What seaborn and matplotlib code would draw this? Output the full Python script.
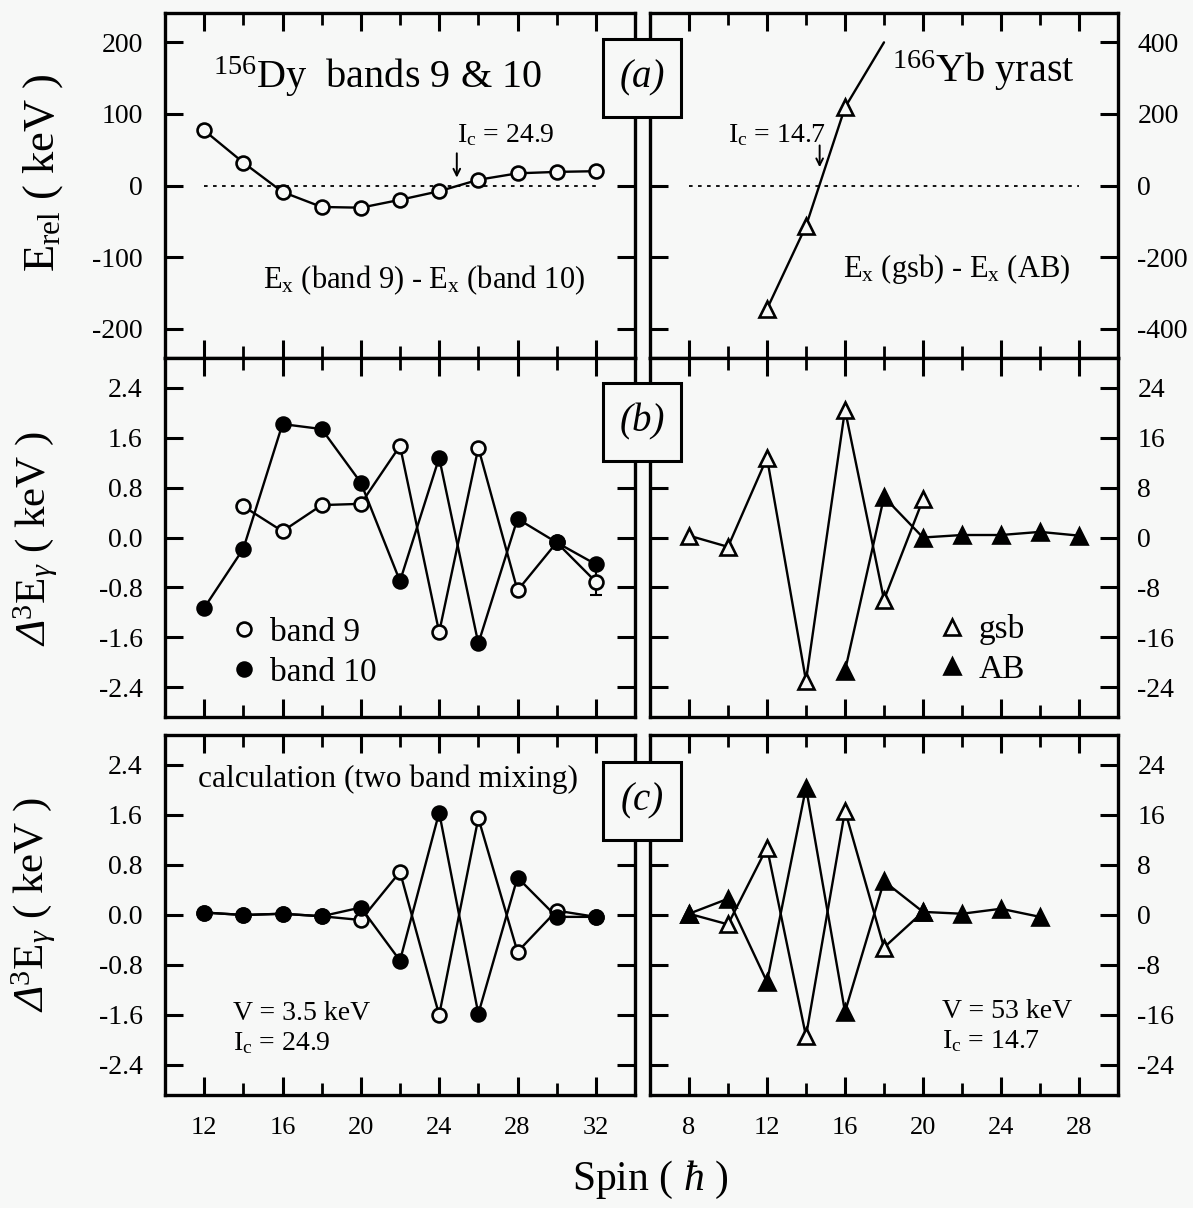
import matplotlib
matplotlib.use('Agg')
import matplotlib.pyplot as plt
import seaborn as sns
from matplotlib.lines import Line2D
from matplotlib.patches import Rectangle
from matplotlib.ticker import MultipleLocator, FixedLocator, FormatStrFormatter

sns.set_theme(style='ticks')
plt.rcParams['font.family'] = ['Liberation Serif', 'DejaVu Serif']
plt.rcParams['mathtext.fontset'] = 'custom'
plt.rcParams['mathtext.rm'] = 'Liberation Serif'
plt.rcParams['mathtext.it'] = 'Liberation Serif:italic'
plt.rcParams['mathtext.bf'] = 'Liberation Serif:bold'
plt.rcParams['mathtext.sf'] = 'Liberation Serif:italic'
plt.rcParams['axes.unicode_minus'] = False
plt.rcParams['text.color'] = 'black'
plt.rcParams['axes.labelcolor'] = 'black'
plt.rcParams['xtick.color'] = 'black'
plt.rcParams['ytick.color'] = 'black'

# ---------------- data ----------------
# (a) 156Dy: Ex(band 9) - Ex(band 10)
dy_a_spin = [12, 14, 16, 18, 20, 22, 24, 26, 28, 30, 32]
dy_a_erel = [77, 32, -9, -30, -31, -20, -8, 8, 17, 19, 20]
# (a) 166Yb: Ex(gsb) - Ex(AB); last point is the end of the drawn line only
yb_a_spin = [12, 14, 16, 18]
yb_a_erel = [-345, -113, 218, 400]

# (b) 156Dy experimental
dy_b9_spin = [14, 16, 18, 20, 22, 24, 26, 28, 30, 32]
dy_b9_val = [0.50, 0.10, 0.52, 0.54, 1.47, -1.52, 1.44, -0.85, -0.08, -0.71]
dy_b9_err_spin = [32]
dy_b9_err_val = [-0.71]
dy_b9_err = [0.22]
dy_b10_spin = [12, 14, 16, 18, 20, 22, 24, 26, 28, 30, 32]
dy_b10_val = [-1.13, -0.18, 1.82, 1.74, 0.88, -0.70, 1.28, -1.70, 0.30, -0.08, -0.43]

# (b) 166Yb experimental
yb_gsb_spin = [8, 10, 12, 14, 16, 18, 20]
yb_gsb_val = [0.3, -1.5, 12.8, -23.0, 20.5, -10.0, 6.1]
yb_ab_spin = [16, 18, 20, 22, 24, 26, 28]
yb_ab_val = [-21.4, 6.5, 0.0, 0.4, 0.4, 0.9, 0.3]

# (c) 156Dy calculation
dy_c9_spin = [12, 14, 16, 18, 20, 22, 24, 26, 28, 30, 32]
dy_c9_val = [0.04, 0.0, 0.02, -0.02, -0.08, 0.69, -1.60, 1.55, -0.59, 0.07, -0.03]
dy_c10_spin = [12, 14, 16, 18, 20, 22, 24, 26, 28, 30, 32]
dy_c10_val = [0.04, 0.0, 0.02, -0.02, 0.12, -0.73, 1.64, -1.58, 0.60, -0.03, -0.03]

# (c) 166Yb calculation
yb_cg_spin = [8, 10, 12, 14, 16, 18, 20]
yb_cg_val = [0.2, -1.5, 10.8, -19.4, 16.7, -5.2, 0.5]
yb_ca_spin = [8, 10, 12, 14, 16, 18, 20, 22, 24, 26]
yb_ca_val = [0.2, 2.6, -10.7, 20.4, -15.5, 5.4, 0.5, 0.2, 1.0, -0.3]

panel_labels = ['(a)', '(b)', '(c)']

# ---------------- figure ----------------
BG = '#f7f8f7'
W, H = 1193, 1208
fig = plt.figure(figsize=(W / 100, H / 100), dpi=100, facecolor=BG)

rows = [(13, 358), (358, 717), (735, 1095)]
cols = [(165, 635), (650, 1118)]


def add_ax(c, r):
    x0, x1 = cols[c]
    y0, y1 = rows[r]
    return fig.add_axes([x0 / W, 1 - y1 / H, (x1 - x0) / W, (y1 - y0) / H])


axes = [[add_ax(c, r) for c in range(2)] for r in range(3)]


def style(ax, side, xlim, ylim, yticks, fmt, xlabels):
    ax.set_facecolor(BG)
    for s in ax.spines.values():
        s.set_visible(True)
        s.set_linewidth(2.4)
        s.set_color('black')
    ax.set_xlim(xlim)
    ax.set_ylim(ylim)
    ax.xaxis.set_major_locator(MultipleLocator(4))
    ax.xaxis.set_minor_locator(MultipleLocator(2))
    ax.yaxis.set_major_locator(FixedLocator(yticks))
    ax.yaxis.set_major_formatter(FormatStrFormatter(fmt))
    ax.tick_params(axis='both', which='both', direction='in', top=True, bottom=True,
                   left=True, right=True, color='black', labelcolor='black')
    ax.tick_params(which='major', length=13, width=2.2)
    ax.tick_params(which='minor', length=8.5, width=2.0)
    ax.tick_params(axis='y', which='minor', left=False, right=False)
    ax.tick_params(axis='x', labelbottom=xlabels, labeltop=False, labelsize=19, pad=16)
    ax.tick_params(axis='y', labelsize=20, labelleft=(side == 'left'),
                   labelright=(side == 'right'), pad=(16 if side == 'left' else 14))
    ax.grid(False)
    ax.set_xlabel('')
    ax.set_ylabel('')


def series(ax, x, y, marker, filled, ms, **kw):
    sns.lineplot(x=x, y=y, ax=ax, color='black', linewidth=1.7, marker=marker,
                 markersize=ms, markerfacecolor=('black' if filled else BG),
                 markeredgecolor='black', markeredgewidth=1.9,
                 estimator=None, sort=False, legend=False, **kw)


DELTA_LABEL = r'$\mathsf{\Delta}^{3}$E$_{\gamma}$ ( keV )'

# ---- row (a) ----
ax = axes[0][0]
ax.plot([12, 32], [0, 0], color='black', lw=1.3, ls=(0, (2, 3)))
series(ax, dy_a_spin, dy_a_erel, 'o', False, 10)
style(ax, 'left', (10, 34), (-241, 241), [-200, -100, 0, 100, 200], '%d', False)
ax.text(0.102, 0.783, r'$^{156}$Dy  bands 9 & 10', transform=ax.transAxes,
        fontsize=29, ha='left', va='baseline')
ax.text(0.2085, 0.203, r'E$_{\rm x}$ (band 9) - E$_{\rm x}$ (band 10)', transform=ax.transAxes,
        fontsize=22, ha='left', va='baseline')
ax.text(0.621, 0.626, r'I$_{\rm c}$ = 24.9', transform=ax.transAxes,
        fontsize=20, ha='left', va='baseline')
ax.annotate('', xy=(24.9, 11), xytext=(24.9, 45),
            arrowprops=dict(arrowstyle='->', lw=1.4, color='black', shrinkA=0, shrinkB=0))
ax.set_ylabel(r'E$_{\rm rel}$ ( keV )', fontsize=32)

ax = axes[0][1]
ax.plot([8, 28], [0, 0], color='black', lw=1.3, ls=(0, (2, 3)))
series(ax, yb_a_spin, yb_a_erel, '^', False, 12, markevery=[0, 1, 2])
style(ax, 'right', (6, 30), (-482, 482), [-400, -200, 0, 200, 400], '%d', False)
ax.text(0.518, 0.80, r'$^{166}$Yb yrast', transform=ax.transAxes,
        fontsize=29, ha='left', va='baseline')
ax.text(0.4115, 0.235, r'E$_{\rm x}$ (gsb) - E$_{\rm x}$ (AB)', transform=ax.transAxes,
        fontsize=22, ha='left', va='baseline')
ax.text(0.166, 0.626, r'I$_{\rm c}$ = 14.7', transform=ax.transAxes,
        fontsize=20, ha='left', va='baseline')
ax.annotate('', xy=(14.7, 51), xytext=(14.7, 112),
            arrowprops=dict(arrowstyle='->', lw=1.4, color='black', shrinkA=0, shrinkB=0))

# ---- row (b) ----
dticks = [-2.4, -1.6, -0.8, 0.0, 0.8, 1.6, 2.4]
iticks = [-24, -16, -8, 0, 8, 16, 24]

ax = axes[1][0]
ax.errorbar(dy_b9_err_spin, dy_b9_err_val, yerr=dy_b9_err, fmt='none', ecolor='black',
            elinewidth=1.5, capsize=4, capthick=1.5)
series(ax, dy_b9_spin, dy_b9_val, 'o', False, 10)
series(ax, dy_b10_spin, dy_b10_val, 'o', True, 10)
style(ax, 'left', (10, 34), (-2.88, 2.88), dticks, '%.1f', False)
h9 = Line2D([], [], ls='none', marker='o', ms=10, mfc=BG, mec='black', mew=1.9)
h10 = Line2D([], [], ls='none', marker='o', ms=10, mfc='black', mec='black', mew=1.9)
ax.legend([h9, h10], ['band 9', 'band 10'], loc='upper left', bbox_to_anchor=(0.132, 0.278),
          frameon=False, fontsize=24, handlelength=1.0, handletextpad=0.3,
          labelspacing=0.28, borderpad=0, borderaxespad=0)
ax.set_ylabel(DELTA_LABEL, fontsize=31)

ax = axes[1][1]
series(ax, yb_gsb_spin, yb_gsb_val, '^', False, 12)
series(ax, yb_ab_spin, yb_ab_val, '^', True, 12)
style(ax, 'right', (6, 30), (-28.8, 28.8), iticks, '%d', False)
hg = Line2D([], [], ls='none', marker='^', ms=12, mfc=BG, mec='black', mew=1.9)
ha = Line2D([], [], ls='none', marker='^', ms=12, mfc='black', mec='black', mew=1.9)
ax.legend([hg, ha], ['gsb', 'AB'], loc='upper left', bbox_to_anchor=(0.61, 0.286),
          frameon=False, fontsize=24, handlelength=1.0, handletextpad=0.3,
          labelspacing=0.28, borderpad=0, borderaxespad=0)

# ---- row (c) ----
ax = axes[2][0]
series(ax, dy_c9_spin, dy_c9_val, 'o', False, 10)
series(ax, dy_c10_spin, dy_c10_val, 'o', True, 10)
style(ax, 'left', (10, 34), (-2.88, 2.88), dticks, '%.1f', True)
ax.text(0.070, 0.856, 'calculation (two band mixing)', transform=ax.transAxes,
        fontsize=22.6, ha='left', va='baseline')
ax.text(0.145, 0.208, 'V = 3.5 keV', transform=ax.transAxes,
        fontsize=20, ha='left', va='baseline')
ax.text(0.145, 0.125, r'I$_{\rm c}$ = 24.9', transform=ax.transAxes,
        fontsize=20, ha='left', va='baseline')
ax.set_ylabel(DELTA_LABEL, fontsize=31)

ax = axes[2][1]
series(ax, yb_cg_spin, yb_cg_val, '^', False, 12)
series(ax, yb_ca_spin, yb_ca_val, '^', True, 12)
style(ax, 'right', (6, 30), (-28.8, 28.8), iticks, '%d', True)
ax.text(0.625, 0.214, 'V = 53 keV', transform=ax.transAxes,
        fontsize=20, ha='left', va='baseline')
ax.text(0.625, 0.131, r'I$_{\rm c}$ = 14.7', transform=ax.transAxes,
        fontsize=20, ha='left', va='baseline')

# y-label positions (centres)
for (r, px, py) in [(0, 43, 173), (1, 36, 539), (2, 34, 905)]:
    a = axes[r][0]
    x0, x1 = cols[0]
    y0, y1 = rows[r]
    a.yaxis.label.set_va('center')
    a.yaxis.label.set_ha('center')
    a.yaxis.set_label_coords((px - x0) / (x1 - x0), (y1 - py) / (y1 - y0))

# panel label boxes
for lab, yc in zip(panel_labels, [78, 422, 801]):
    rect = Rectangle((603 / W, 1 - (yc + 39) / H), 78 / W, 78 / H, transform=fig.transFigure,
                     facecolor=BG, edgecolor='black', lw=2.2, zorder=5)
    fig.add_artist(rect)
    fig.text(642 / W, 1 - yc / H, lab, ha='center', va='center', fontsize=28,
             style='italic', zorder=6)

fig.text(650 / W, 1 - 1180 / H, r'Spin ( $\hbar$ )', ha='center', va='center', fontsize=30)

fig.savefig('out.png', dpi=100, facecolor=BG)
